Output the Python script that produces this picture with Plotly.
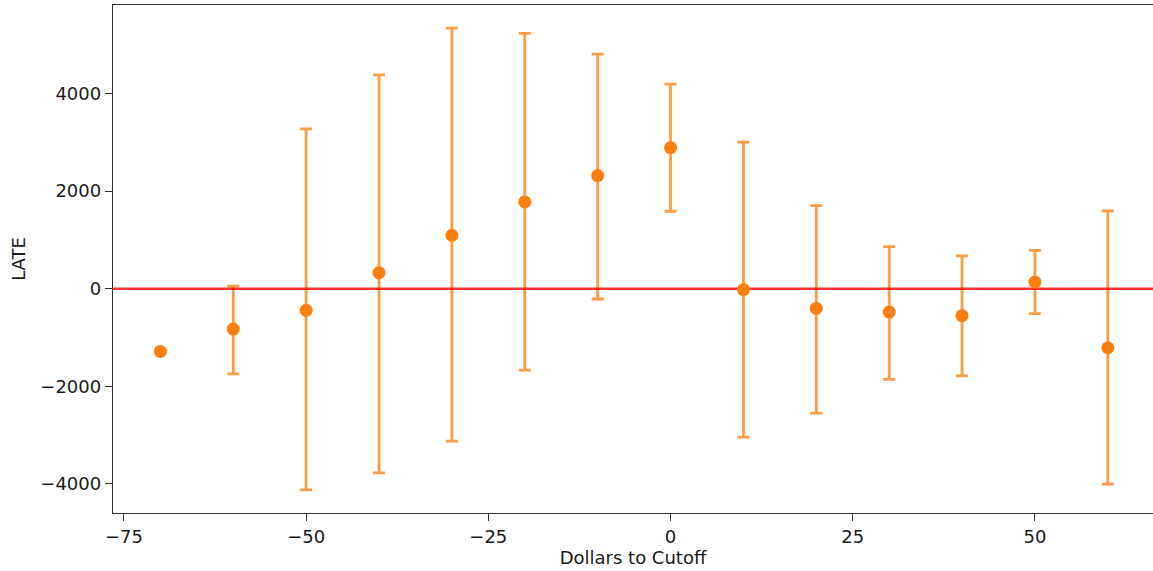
import plotly.graph_objects as go

# Data
dollars = [-70, -60, -50, -40, -30, -20, -10, 0, 10, 20, 30, 40, 50, 60]
late = [-1285, -827, -443, 328, 1095, 1779, 2318, 2892, -20, -403, -478, -553, 137, -1210]
upper = [-1285, 55, 3276, 4382, 5341, 5231, 4808, 4193, 3003, 1703, 862, 671, 787, 1594]
lower = [-1285, -1744, -4123, -3774, -3124, -1668, -211, 1588, -3042, -2550, -1859, -1784, -512, -4005]

x_ticks = [-75, -50, -25, 0, 25, 50]
y_ticks = [-4000, -2000, 0, 2000, 4000]
X_RANGE = [-76.5, 66.2]
Y_RANGE = [-4596, 5814]

err_plus = [u - y for u, y in zip(upper, late)]
err_minus = [y - l for y, l in zip(late, lower)]

ORANGE = "#ff7f0e"
FONT = "DejaVu Sans"

fig = go.Figure()

# error bars (markers hidden, drawn first)
fig.add_trace(go.Scatter(
    x=dollars, y=late, mode="markers",
    marker=dict(color="rgba(0,0,0,0)", size=13),
    error_y=dict(type="data", symmetric=False, array=err_plus, arrayminus=err_minus,
                 color="rgba(255,127,14,0.78)", thickness=2.8, width=6),
    showlegend=False, hoverinfo="skip",
))

# red zero line
fig.add_trace(go.Scatter(
    x=[X_RANGE[0] - 5, X_RANGE[1] + 5], y=[0, 0], mode="lines",
    line=dict(color="rgba(255,0,0,0.8)", width=2.6),
    showlegend=False, hoverinfo="skip",
))

# point estimates
fig.add_trace(go.Scatter(
    x=dollars, y=late, mode="markers",
    marker=dict(color=ORANGE, size=13, line=dict(width=0)),
    showlegend=False,
))

axis_common = dict(
    showgrid=False, zeroline=False, showline=True, linecolor="#333333", linewidth=1.4,
    ticks="outside", ticklen=7, tickwidth=1.4, tickcolor="#333333",
    tickfont=dict(family=FONT, size=18, color="#1a1a1a"),
    automargin=False,
)

fig.update_layout(
    width=1153, height=571,
    margin=dict(l=113, r=0, t=5, b=58),
    paper_bgcolor="white", plot_bgcolor="white",
    font=dict(family=FONT, size=18, color="#1a1a1a"),
    xaxis=dict(**axis_common, range=X_RANGE, tickvals=x_ticks, mirror=True,
               title=dict(text="Dollars to Cutoff", font=dict(family=FONT, size=18), standoff=4)),
    yaxis=dict(**axis_common, range=Y_RANGE, tickvals=y_ticks, mirror=False,
               title=dict(text="LATE", font=dict(family=FONT, size=18), standoff=10)),
)

fig.write_html(
    "out.html",
    config={"responsive": False, "displayModeBar": False},
    post_script="document.body.style.margin='0';document.body.style.overflow='hidden';",
)
